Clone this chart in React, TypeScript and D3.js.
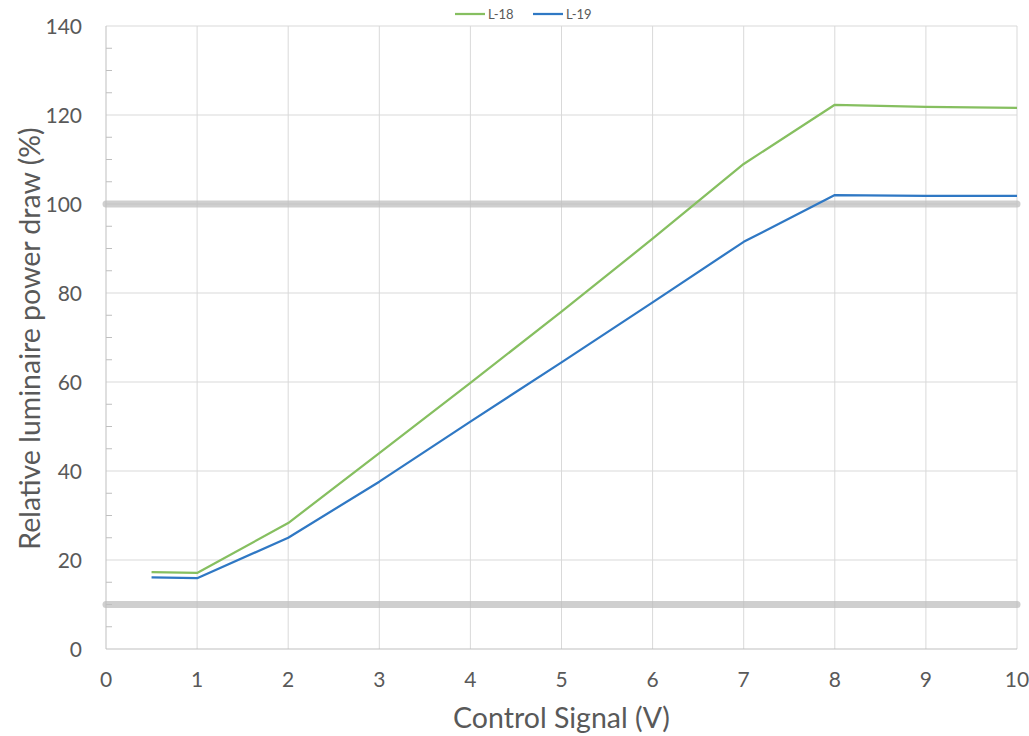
import { useEffect, useRef } from "react";
import * as d3 from "d3";

const signal = [0.5, 1, 2, 3, 4, 5, 6, 7, 8, 9, 10];
const l18 = [17.3, 17.1, 28.3, 44, 59.8, 75.8, 92.2, 109, 122.3, 121.8, 121.6];
const l19 = [16.1, 15.9, 25, 37.6, 51.1, 64.4, 77.9, 91.5, 102, 101.8, 101.8];
const xTicks = [0, 1, 2, 3, 4, 5, 6, 7, 8, 9, 10];
const yTicks = [0, 20, 40, 60, 80, 100, 120, 140];
const limits = [10, 100];

const series = [
  { name: "L-18", values: l18, color: "#86bf60" },
  { name: "L-19", values: l19, color: "#2f78c4" },
];

export default function App() {
  const svgRef = useRef<SVGSVGElement>(null);

  useEffect(() => {
    if (!svgRef.current) return;
    const svg = d3.select(svgRef.current);
    svg.selectAll("*").remove();

    const W = 1029;
    const H = 736;
    const margin = { top: 26, right: 12, bottom: 87, left: 106 };
    const width = W - margin.left - margin.right;
    const height = H - margin.top - margin.bottom;
    const font = "Lato, 'Open Sans', sans-serif";

    svg.attr("viewBox", `0 0 ${W} ${H}`).attr("width", W).attr("height", H);
    svg.append("rect").attr("width", W).attr("height", H).attr("fill", "#fff");

    const g = svg.append("g").attr("transform", `translate(${margin.left},${margin.top})`);

    const x = d3.scaleLinear().domain([0, 10]).range([0, width]);
    const y = d3.scaleLinear().domain([0, 140]).range([height, 0]);

    // gridlines
    g.append("g")
      .selectAll("line")
      .data(yTicks.slice(1))
      .join("line")
      .attr("x1", 0)
      .attr("x2", width)
      .attr("y1", (d) => y(d))
      .attr("y2", (d) => y(d))
      .attr("stroke", "#d9d9d9")
      .attr("stroke-width", 1);

    g.append("g")
      .selectAll("line")
      .data(xTicks.slice(1))
      .join("line")
      .attr("x1", (d) => x(d))
      .attr("x2", (d) => x(d))
      .attr("y1", 0)
      .attr("y2", height)
      .attr("stroke", "#d9d9d9")
      .attr("stroke-width", 1);

    // minor ticks on y axis
    const minor = d3.range(5, 140, 5).filter((v) => v % 20 !== 0);
    g.append("g")
      .selectAll("line")
      .data(minor)
      .join("line")
      .attr("x1", 0)
      .attr("x2", 6)
      .attr("y1", (d) => y(d))
      .attr("y2", (d) => y(d))
      .attr("stroke", "#bfbfbf");

    // axes lines
    g.append("line")
      .attr("x1", 0).attr("x2", 0).attr("y1", 0).attr("y2", height)
      .attr("stroke", "#bfbfbf");
    g.append("line")
      .attr("x1", 0).attr("x2", width).attr("y1", height).attr("y2", height)
      .attr("stroke", "#bfbfbf");

    // limit bands
    g.append("g")
      .selectAll("line")
      .data(limits)
      .join("line")
      .attr("x1", x(0))
      .attr("x2", x(10))
      .attr("y1", (d) => y(d))
      .attr("y2", (d) => y(d))
      .attr("stroke", "#bfbfbf")
      .attr("stroke-opacity", 0.75)
      .attr("stroke-width", 7)
      .attr("stroke-linecap", "round");

    // tick labels
    g.append("g")
      .selectAll("text")
      .data(yTicks)
      .join("text")
      .attr("x", -24)
      .attr("y", (d) => y(d))
      .attr("dy", "0.36em")
      .attr("text-anchor", "end")
      .attr("font-family", font)
      .attr("font-size", 21)
      .attr("fill", "#595959")
      .text((d) => d);

    g.append("g")
      .selectAll("text")
      .data(xTicks)
      .join("text")
      .attr("x", (d) => x(d))
      .attr("y", height + 38)
      .attr("text-anchor", "middle")
      .attr("font-family", font)
      .attr("font-size", 21)
      .attr("fill", "#595959")
      .text((d) => d);

    // series lines
    const line = d3
      .line<number>()
      .x((_, i) => x(signal[i]))
      .y((d) => y(d));

    series.forEach((s) => {
      g.append("path")
        .datum(s.values)
        .attr("fill", "none")
        .attr("stroke", s.color)
        .attr("stroke-width", 2.25)
        .attr("stroke-linejoin", "round")
        .attr("d", line);
    });

    // axis titles
    svg.append("text")
      .attr("x", margin.left + width / 2)
      .attr("y", 728)
      .attr("text-anchor", "middle")
      .attr("font-family", font)
      .attr("font-size", 28.5)
      .attr("fill", "#595959")
      .text("Control Signal (V)");

    svg.append("text")
      .attr("transform", `translate(40,${margin.top + height / 2 + 1}) rotate(-90)`)
      .attr("text-anchor", "middle")
      .attr("font-family", font)
      .attr("font-size", 28.5)
      .attr("fill", "#595959")
      .text("Relative luminaire power draw (%)");

    // legend
    const legend = svg.append("g").attr("transform", "translate(455,14)");
    const items = [
      { ...series[0], dx: 0 },
      { ...series[1], dx: 78 },
    ];
    items.forEach((s) => {
      legend.append("line")
        .attr("x1", s.dx).attr("x2", s.dx + 30)
        .attr("y1", 0).attr("y2", 0)
        .attr("stroke", s.color).attr("stroke-width", 2.25);
      legend.append("text")
        .attr("x", s.dx + 33)
        .attr("y", 0)
        .attr("dy", "0.36em")
        .attr("font-family", font)
        .attr("font-size", 13)
        .attr("fill", "#595959")
        .text(s.name);
    });
  }, []);

  return (
    <svg
      ref={svgRef}
      style={{ position: "absolute", left: 0, top: 0, display: "block" }}
    />
  );
}
